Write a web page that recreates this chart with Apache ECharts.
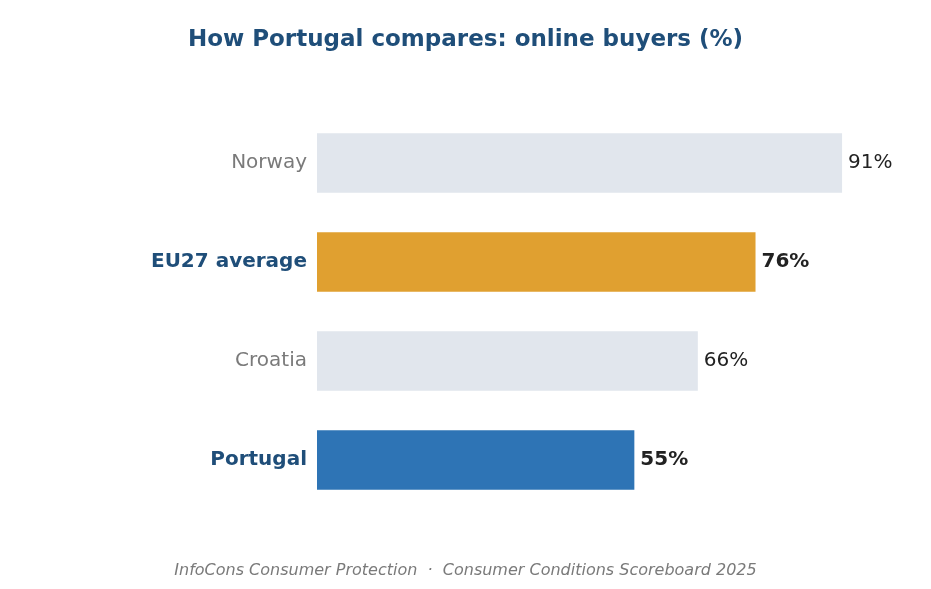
<!DOCTYPE html>
<html>
<head>
<meta charset="utf-8">
<script src="https://cdn.jsdelivr.net/npm/echarts@6/dist/echarts.min.js"></script>
<style>html,body{margin:0;padding:0;background:#fff}#main{width:931px;height:589px}</style>
</head>
<body>
<div id="main"></div>
<script>
var countries = ['Portugal', 'Croatia', 'EU27 average', 'Norway'];
var buyers = [55, 66, 76, 91];
var barColors = ['#2e74b5', '#e1e6ed', '#e0a030', '#e1e6ed'];
var highlight = [true, false, true, false];

var myChart = echarts.init(document.getElementById('main'));
var font = 'DejaVu Sans';

var option = {
    backgroundColor: '#fff',
    title: {
        text: 'How Portugal compares: online buyers (%)',
        left: 'center',
        top: 24,
        textStyle: { fontFamily: font, fontSize: 23, fontWeight: 'bold', color: '#1f4e79' }
    },
    graphic: [{
        type: 'text',
        left: 'center',
        top: 563,
        style: {
            text: 'InfoCons Consumer Protection  ·  Consumer Conditions Scoreboard 2025',
            font: 'italic 16px "DejaVu Sans"',
            fill: '#7a7a7a'
        }
    }],
    grid: { left: 317, right: 37, top: 113.5, bottom: 79.5, containLabel: false },
    xAxis: {
        type: 'value', min: 0, max: 100,
        show: false
    },
    yAxis: {
        type: 'category',
        data: countries,
        axisLine: { show: false },
        axisTick: { show: false },
        axisLabel: {
            margin: 10,
            fontFamily: font,
            fontSize: 20,
            formatter: function (v, i) {
                return highlight[i] ? '{b|' + v + '}' : '{n|' + v + '}';
            },
            rich: {
                b: { fontFamily: font, fontSize: 20, fontWeight: 'bold', color: '#1f4e79' },
                n: { fontFamily: font, fontSize: 20, color: '#7a7a7a' }
            }
        }
    },
    series: [{
        type: 'bar',
        barWidth: '60%',
        data: buyers.map(function (v, i) {
            return {
                value: v,
                itemStyle: { color: barColors[i] },
                label: {
                    fontWeight: highlight[i] ? 'bold' : 'normal'
                }
            };
        }),
        label: {
            show: true,
            position: 'right',
            distance: 6,
            formatter: '{c}%',
            fontFamily: font,
            fontSize: 20,
            color: '#222'
        }
    }]
};
myChart.setOption(option);
</script>
</body>
</html>
